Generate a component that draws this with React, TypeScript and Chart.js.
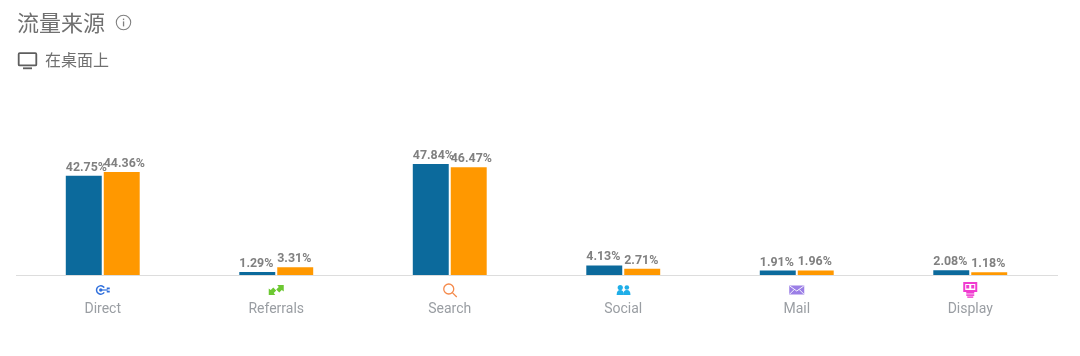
import React, { useEffect, useRef } from "react";
import { Chart, registerables } from "chart.js";

Chart.register(...registerables);

const categories = ["Direct", "Referrals", "Search", "Social", "Mail", "Display"];
const seriesA = [42.75, 1.29, 47.84, 4.13, 1.91, 2.08];
const seriesB = [44.36, 3.31, 46.47, 2.71, 1.96, 1.18];
const seriesLabels = ["Series A", "Series B"];
const colorA = "#0c6a9c";
const colorB = "#ff9800";

type Ctx = CanvasRenderingContext2D;

function iconDirect(c: Ctx) {
  c.strokeStyle = "#2f6fdc";
  c.fillStyle = "#2f6fdc";
  c.lineWidth = 1.5;
  c.beginPath();
  c.arc(-2, 0, 4.2, 0.6, Math.PI * 2 - 0.6);
  c.stroke();
  c.beginPath();
  c.arc(-2, 0, 1.7, 0, Math.PI * 2);
  c.fill();
  c.fillRect(-2, -0.6, 7, 1.2);
  c.fillRect(4, -2.5, 3, 1.8);
  c.fillRect(4, 0.7, 3, 1.8);
}
function iconReferrals(c: Ctx) {
  c.fillStyle = "#6cc832";
  c.beginPath();
  c.moveTo(-7.5, 5); c.lineTo(-7.5, -1.5); c.lineTo(-5.5, 0); c.lineTo(-3, -2.5); c.lineTo(0, 0.5); c.lineTo(-2.5, 3); c.lineTo(-1, 5);
  c.closePath();
  c.fill();
  c.beginPath();
  c.moveTo(7.5, -5); c.lineTo(7.5, 1.5); c.lineTo(5.5, 0); c.lineTo(3, 2.5); c.lineTo(0, -0.5); c.lineTo(2.5, -3); c.lineTo(1, -5);
  c.closePath();
  c.fill();
}
function iconSearch(c: Ctx) {
  c.strokeStyle = "#f58a4b";
  c.lineWidth = 1.3;
  c.beginPath();
  c.arc(-1, -1, 5, 0, Math.PI * 2);
  c.stroke();
  c.beginPath();
  c.moveTo(2.6, 2.6);
  c.lineTo(7, 7);
  c.stroke();
}
function iconSocial(c: Ctx) {
  c.fillStyle = "#1faee8";
  const person = (x: number, r: number) => {
    c.beginPath();
    c.arc(x, -2.5, r, 0, Math.PI * 2);
    c.fill();
    c.beginPath();
    c.moveTo(x - 3.6, 5);
    c.quadraticCurveTo(x - 3.6, 0, x, 0);
    c.quadraticCurveTo(x + 3.6, 0, x + 3.6, 5);
    c.closePath();
    c.fill();
  };
  person(-3, 2.6);
  person(3.6, 2.3);
}
function iconMail(c: Ctx) {
  c.fillStyle = "#9b7fe6";
  c.fillRect(-7.5, -4.5, 15, 9);
  c.strokeStyle = "#ffffff";
  c.lineWidth = 0.9;
  c.beginPath();
  c.moveTo(-7, -4);
  c.lineTo(0, 1);
  c.lineTo(7, -4);
  c.moveTo(-7, 4);
  c.lineTo(-2.5, -0.5);
  c.moveTo(7, 4);
  c.lineTo(2.5, -0.5);
  c.stroke();
}
function iconDisplay(c: Ctx) {
  c.fillStyle = "#f03cd0";
  c.fillRect(-7, -8, 14, 10);
  c.fillStyle = "#ffffff";
  c.fillRect(-5, -6, 10, 6);
  c.fillStyle = "#f03cd0";
  c.fillRect(-4, -5, 3, 3.5);
  c.fillRect(1, -5, 3, 3.5);
  c.fillRect(-4, 2, 8, 1.6);
  c.fillRect(-4, 4.3, 8, 1.6);
  c.fillRect(-3, 6.4, 6, 1.4);
}
const icons: Record<string, (c: Ctx) => void> = {
  Direct: iconDirect,
  Referrals: iconReferrals,
  Search: iconSearch,
  Social: iconSocial,
  Mail: iconMail,
  Display: iconDisplay,
};

const valueLabels = {
  id: "valueLabels",
  afterDatasetsDraw(chart: any) {
    const c: Ctx = chart.ctx;
    c.save();
    c.font = "bold 12.4px Roboto";
    c.fillStyle = "#808080";
    c.textAlign = "left";
    c.textBaseline = "alphabetic";
    chart.data.datasets.forEach((ds: any, i: number) => {
      chart.getDatasetMeta(i).data.forEach((bar: any, j: number) => {
        c.fillText(ds.data[j].toFixed(2) + "%", bar.x - bar.width / 2, bar.y - 5);
      });
    });
    c.restore();
  },
};

const axisIcons = {
  id: "axisIcons",
  afterDraw(chart: any) {
    const c: Ctx = chart.ctx;
    const x = chart.scales.x;
    categories.forEach((name, i) => {
      c.save();
      c.translate(x.getPixelForTick(i), chart.chartArea.bottom + 15);
      icons[name](c);
      c.restore();
    });
  },
};

export default function App() {
  const ref = useRef<HTMLCanvasElement>(null);
  useEffect(() => {
    const chart = new Chart(ref.current!, {
      type: "bar",
      data: {
        labels: categories,
        datasets: [
          { label: seriesLabels[0], data: seriesA, backgroundColor: colorA },
          { label: seriesLabels[1], data: seriesB, backgroundColor: colorB },
        ],
      },
      options: {
        animation: false,
        responsive: false,
        layout: { padding: { left: 16, right: 23, top: 43, bottom: 0 } },
        datasets: { bar: { categoryPercentage: 0.4376, barPercentage: 0.947 } },
        plugins: { legend: { display: false }, tooltip: { enabled: false } },
        scales: {
          x: {
            grid: { display: false, drawTicks: false },
            border: { display: true, color: "#dddddd", width: 1 },
            ticks: { color: "#9a9ea3", font: { family: "Roboto", size: 14 }, padding: 26, maxRotation: 0 },
            afterFit: (s: any) => { s.height = 81; },
          },
          y: { display: false, min: 0, max: 100 },
        },
      },
      plugins: [valueLabels, axisIcons],
    } as any);
    return () => chart.destroy();
  }, []);
  return (
    <div style={{ position: "absolute", left: 0, top: 0, width: 1080, height: 356, background: "#fff", overflow: "hidden" }}>
      <canvas ref={ref} width={1080} height={356} style={{ position: "absolute", left: 0, top: 0 }} />
      <div style={{ position: "absolute", left: 17, top: 5, font: "400 22px/32px 'Noto Sans CJK SC'", color: "#707070" }}>流量来源</div>
      <svg style={{ position: "absolute", left: 115, top: 14 }} width={17} height={17} viewBox="0 0 17 17">
        <circle cx={8.5} cy={8.5} r={7.2} fill="none" stroke="#808080" strokeWidth={1.1} />
        <rect x={7.9} y={7.4} width={1.3} height={5} fill="#808080" />
        <rect x={7.9} y={4.6} width={1.3} height={1.5} fill="#808080" />
      </svg>
      <svg style={{ position: "absolute", left: 17, top: 51 }} width={21} height={20} viewBox="0 0 21 20">
        <rect x={1.7} y={2.2} width={17.6} height={12.2} rx={1} fill="none" stroke="#5e5e5e" strokeWidth={1.8} />
        <rect x={6} y={16.4} width={9} height={1.8} fill="#5e5e5e" />
      </svg>
      <div style={{ position: "absolute", left: 45, top: 47, font: "400 16px/24px 'Noto Sans CJK SC'", color: "#707070" }}>在桌面上</div>
    </div>
  );
}
